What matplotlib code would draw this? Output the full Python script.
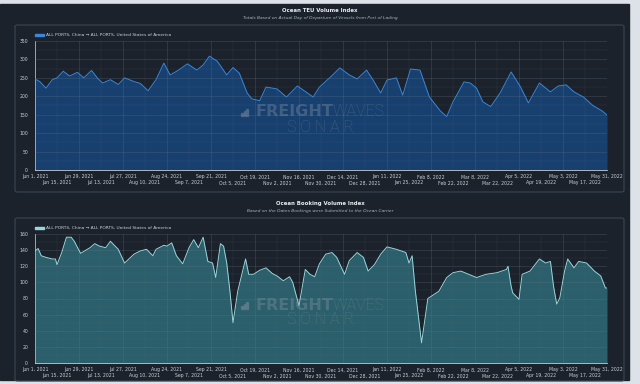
import pandas as pd
import matplotlib.pyplot as plt
from matplotlib.patches import Rectangle, FancyBboxPatch

# Ocean TEU Volume Index: days after Jun 1, 2021 and index values
teu_days = [0, 3, 7, 11, 14, 18, 22, 27, 31, 36, 40, 43, 48, 53, 57, 63, 67, 72, 77, 82,
            86, 91, 97, 103, 107, 111, 116, 122, 126, 130, 135, 138, 143, 147, 154, 160,
            167, 177, 181, 188, 194, 200, 205, 211, 215, 220, 224, 230, 234, 239, 245,
            251, 258, 262, 266, 273, 277, 281, 285, 290, 296, 303, 309, 314, 321, 328,
            333, 338, 343, 349, 355, 361, 364]
teu_vals = [247, 240, 222, 245, 250, 268, 255, 265, 250, 270, 248, 236, 245, 232, 250, 240,
            235, 215, 245, 290, 258, 270, 288, 271, 285, 309, 295, 258, 278, 263, 209, 193,
            188, 225, 220, 198, 228, 198, 225, 252, 277, 258, 247, 271, 245, 209, 244, 250,
            203, 274, 271, 198, 160, 145, 185, 239, 236, 222, 185, 172, 209, 266, 225, 182,
            236, 212, 228, 231, 212, 198, 175, 160, 149]

# Ocean Booking Volume Index
obv_days = [0, 2, 4, 7, 11, 13, 14, 17, 20, 23, 25, 29, 35, 38, 41, 45, 48, 53, 57, 63,
            67, 71, 75, 77, 82, 84, 87, 90, 94, 98, 101, 104, 107, 110, 113, 115, 118, 120,
            122, 124, 126, 129, 134, 136, 139, 143, 147, 151, 154, 158, 162, 164, 168, 172,
            175, 178, 181, 185, 189, 192, 197, 200, 205, 209, 212, 216, 220, 224, 230, 236,
            238, 240, 242, 246, 250, 257, 262, 266, 271, 276, 281, 287, 294, 300, 301, 303,
            304, 308, 310, 315, 321, 325, 328, 330, 332, 334, 337, 339, 343, 346, 351, 356,
            360, 363, 364]
obv_vals = [139, 142, 133, 131, 129, 129, 122, 137, 156, 156, 151, 136, 143, 148, 145, 143,
            151, 141, 124, 135, 139, 141, 133, 141, 146, 145, 149, 133, 123, 143, 153, 143,
            156, 126, 124, 106, 148, 145, 124, 90, 50, 89, 129, 110, 110, 115, 118, 111, 108,
            102, 107, 100, 71, 116, 110, 107, 123, 135, 137, 131, 110, 127, 137, 131, 114,
            122, 135, 144, 141, 137, 124, 133, 90, 25, 80, 89, 106, 112, 114, 110, 106, 110,
            112, 116, 120, 95, 87, 79, 110, 114, 129, 124, 126, 95, 73, 81, 114, 129, 118,
            126, 124, 114, 108, 93, 93]

start = pd.Timestamp('2021-06-01')
tick_dates = pd.date_range('2021-06-01', '2022-05-31', freq='14D')
legend_text = 'ALL PORTS, China \u2192 ALL PORTS, United States of America'

W, H = 640, 384
PANEL = '#1b222b'
FRAME = '#3b4551'
TXT = '#c9d0d8'
WM = '#8d9aab'


def fx(x):
    return x / W


def fy(y):
    return 1 - y / H


fig = plt.figure(figsize=(6.4, 3.84), dpi=100, facecolor='#dde2e8')

# dark screenshot panel, drawn under everything
fig.patches.append(Rectangle((0, fy(380)), fx(629), fy(4) - fy(380),
                             transform=fig.transFigure, color=PANEL, zorder=-10))


def draw_chart(top, days, vals, ymax, ystep, fill, line, title, subtitle, frame_bottom):
    # frame box
    fig.patches.append(FancyBboxPatch((fx(15), fy(frame_bottom)), fx(609), fy(top + 14) - fy(frame_bottom),
                                      boxstyle='round,pad=0,rounding_size=0.004',
                                      transform=fig.transFigure, fill=False,
                                      edgecolor=FRAME, linewidth=0.8, zorder=-5))
    fig.text(fx(320), fy(top), title, ha='center', va='center', fontsize=3.9,
             fontweight='bold', color='#e8ecf0')
    fig.text(fx(320), fy(top + 7), subtitle, ha='center', va='center', fontsize=3.2,
             style='italic', color='#aab3bd')

    ax = fig.add_axes([fx(35), fy(top + 159), fx(572), fy(top + 30) - fy(top + 159)])
    ax.set_facecolor(PANEL)
    x = start + pd.to_timedelta(days, unit='D')
    ax.fill_between(x, vals, 0, color=fill, linewidth=0, zorder=2)
    ax.plot(x, vals, color=line, linewidth=0.7, zorder=3)

    ax.set_xlim(tick_dates[0], tick_dates[-1])
    ax.set_ylim(0, ymax)
    ax.set_yticks(range(0, ymax + 1, ystep))
    ax.set_yticks(range(0, ymax + 1, ystep // 2), minor=True)
    ax.set_xticks(tick_dates[::2])
    ax.set_xticks(tick_dates[1::2], minor=True)
    ax.set_xticklabels([d.strftime('%b %-d, %Y') for d in tick_dates[::2]])
    ax.set_xticklabels([d.strftime('%b %-d, %Y') for d in tick_dates[1::2]], minor=True)
    ax.tick_params(axis='x', which='major', length=0, pad=3.2, labelsize=3.3, labelcolor=TXT)
    ax.tick_params(axis='x', which='minor', length=0, pad=7.5, labelsize=3.3, labelcolor=TXT)
    ax.tick_params(axis='y', which='both', length=0, pad=5, labelsize=3.3, labelcolor=TXT)
    ax.grid(True, which='major', color='#6a7686', linewidth=0.4, alpha=0.45, zorder=4)
    ax.grid(True, which='minor', color='#6a7686', linewidth=0.3, alpha=0.25, zorder=4)
    ax.set_axisbelow(False)
    for side in ['top', 'right']:
        ax.spines[side].set_visible(False)
    for side in ['left', 'bottom']:
        ax.spines[side].set_color('#c4ccd4')
        ax.spines[side].set_linewidth(0.6)

    # legend
    fig.patches.append(Rectangle((fx(35), fy(top + 25)), fx(9), fy(top + 23) - fy(top + 25),
                                 transform=fig.transFigure, color=line, zorder=5))
    fig.text(fx(46), fy(top + 23.8), legend_text, ha='left', va='center', fontsize=3.2,
             color=TXT)

    # watermark
    wy = top + 101
    fig.text(fx(333), fy(wy), 'FREIGHT', ha='right', va='center', fontsize=11.5,
             fontweight='heavy', color=WM, alpha=0.35, zorder=6)
    fig.text(fx(333), fy(wy), 'WAVES', ha='left', va='center', fontsize=11.5,
             family='Roboto', fontweight='light', color=WM, alpha=0.35, zorder=6)
    fig.text(fx(320), fy(wy + 15), 'S O N A R', ha='center', va='center', fontsize=11.5,
             family='Roboto', fontweight='light', color=WM, alpha=0.35, zorder=6)
    for i, hgt in enumerate([3, 5, 7]):
        fig.patches.append(Rectangle((fx(241 + i * 2.6), fy(wy + 4)), fx(1.8), hgt / H,
                                     transform=fig.transFigure, color=WM,
                                     alpha=0.35, zorder=6))
    return ax


draw_chart(11, teu_days, teu_vals, 350, 50, '#17406f', '#3a86da',
           'Ocean TEU Volume Index',
           'Totals Based on Actual Day of Departure of Vessels from Port of Lading', 192)
draw_chart(204, obv_days, obv_vals, 160, 20, '#2b5f6b', '#98d6da',
           'Ocean Booking Volume Index',
           'Based on the Dates Bookings were Submitted to the Ocean Carrier', 381)

fig.savefig('out.png', dpi=100, facecolor=fig.get_facecolor())
